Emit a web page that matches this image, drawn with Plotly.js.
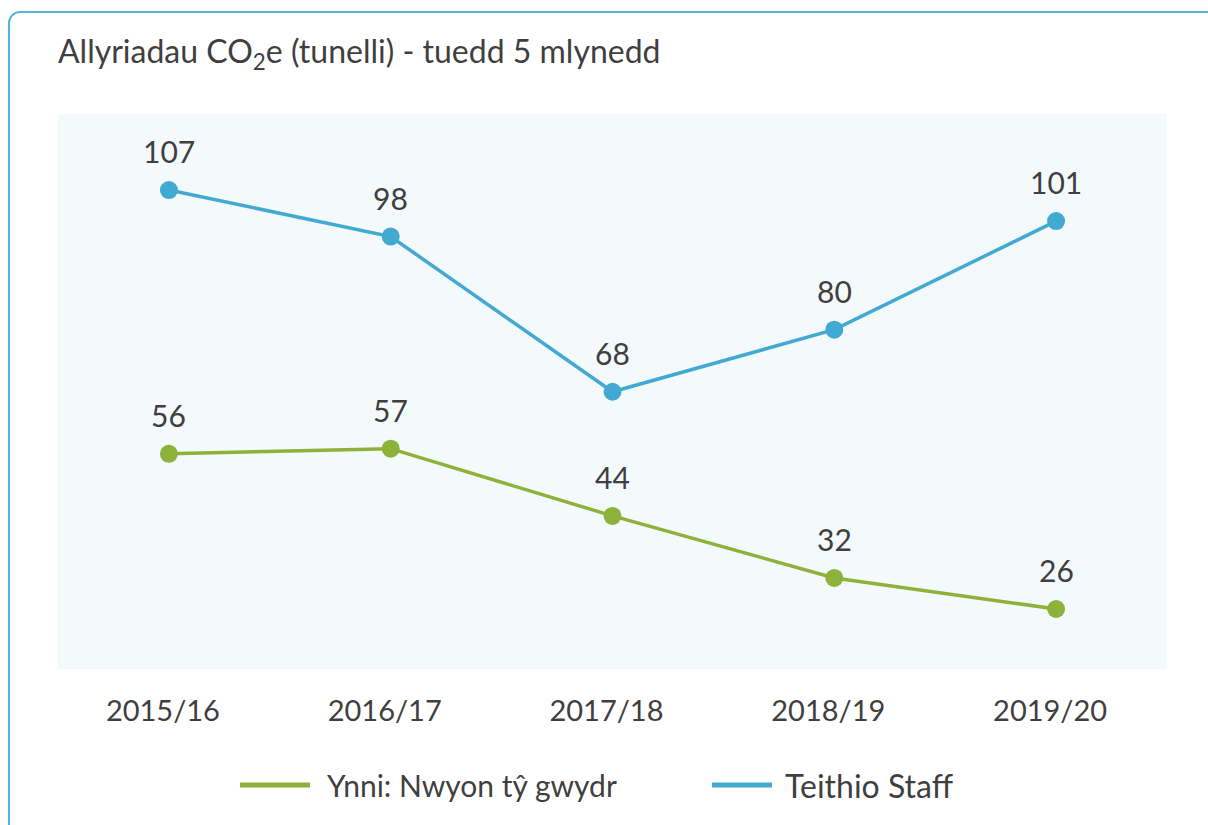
<!DOCTYPE html>
<html>
<head>
<meta charset="utf-8">
<script src="https://cdn.plot.ly/plotly-3.0.1.min.js"></script>
<style>
  body { margin:0; background:#fff; }
  #frame { position:absolute; left:8px; top:11px; width:1400px; height:1000px; border:2px solid #55b5da; border-radius:12px; box-sizing:border-box; }
  #chart { position:absolute; left:0; top:0; width:1208px; height:825px; }
</style>
</head>
<body>
<div id="frame"></div>
<div id="chart"></div>
<script>
const years = ["2015/16", "2016/17", "2017/18", "2018/19", "2019/20"];
const ynni = [56, 57, 44, 32, 26];
const teithio = [107, 98, 68, 80, 101];
const seriesNames = ["Ynni: Nwyon tŷ gwydr", "Teithio Staff"];
const titleText = "Allyriadau CO<sub>2</sub>e (tunelli) - tuedd 5 mlynedd";

const green = "#8cb23a", blue = "#42aad2", textCol = "#3f3f3f";
const fontFam = "Lato, 'Open Sans', sans-serif";

const traces = [
  {x: years, y: ynni, name: seriesNames[0], mode: "lines+markers", line: {color: green, width: 3.5}, marker: {color: green, size: 18}, showlegend: false, hoverinfo: "skip"},
  {x: years, y: teithio, name: seriesNames[1], mode: "lines+markers", line: {color: blue, width: 3.5}, marker: {color: blue, size: 18}, showlegend: false, hoverinfo: "skip"}
];

const annotations = [];
[ynni, teithio].forEach(arr => arr.forEach((v, i) => annotations.push({
  x: years[i], y: v, xref: "x", yref: "y", text: String(v), showarrow: false,
  yshift: 39, font: {family: fontFam, size: 30, color: textCol}
})));
// legend text
const legY = -(785-669)/555;
annotations.push({xref: "paper", yref: "paper", x: (325-58)/1109, y: legY, xanchor: "left", yanchor: "middle", text: seriesNames[0], showarrow: false, font: {family: fontFam, size: 30, color: textCol}});
annotations.push({xref: "paper", yref: "paper", x: (783-58)/1109, y: legY, xanchor: "left", yanchor: "middle", text: seriesNames[1], showarrow: false, font: {family: fontFam, size: 32, color: textCol}});

const shapes = [
  {type: "line", xref: "paper", yref: "paper", x0: (240-58)/1109, x1: (310-58)/1109, y0: legY, y1: legY, line: {color: green, width: 5}},
  {type: "line", xref: "paper", yref: "paper", x0: (712-58)/1109, x1: (772-58)/1109, y0: legY, y1: legY, line: {color: blue, width: 5}}
];

const layout = {
  width: 1208, height: 825,
  margin: {l: 58, r: 41, t: 114, b: 156},
  paper_bgcolor: "rgba(0,0,0,0)",
  plot_bgcolor: "#f4f9fc",
  title: {text: titleText, x: 58/1208, xanchor: "left", y: 1 - 52/825, yanchor: "middle", font: {family: fontFam, size: 32, color: textCol}},
  xaxis: {type: "category", range: [-0.5, 4.5], showgrid: false, zeroline: false, showline: false, ticks: "", ticklabelstandoff: 22, ticklabelshift: -6, tickfont: {family: fontFam, size: 29, color: textCol}, fixedrange: true},
  yaxis: {range: [14.4, 121.7], showgrid: false, zeroline: false, showline: false, showticklabels: false, ticks: "", fixedrange: true},
  annotations: annotations,
  shapes: shapes,
  showlegend: false
};

Plotly.newPlot("chart", traces, layout, {displayModeBar: false, staticPlot: true});
</script>
</body>
</html>
